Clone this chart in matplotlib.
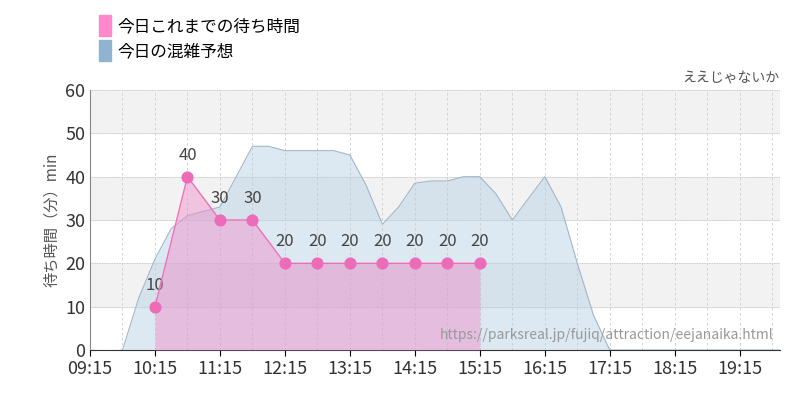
import matplotlib
matplotlib.use("Agg")
import matplotlib.pyplot as plt
from matplotlib.patches import Patch

plt.rcParams['font.family'] = ['Noto Sans CJK JP', 'DejaVu Sans']

# times in hours
fc_t = [9.25, 9.5, 9.75, 10.0, 10.25, 10.5, 10.75, 11.0, 11.25, 11.5, 11.75, 12.0, 12.25, 12.5, 12.75, 13.0,
        13.25, 13.5, 13.75, 14.0, 14.25, 14.5, 14.75, 15.0, 15.25, 15.5, 15.75, 16.0, 16.25, 16.5,
        16.75, 17.0, 17.25, 17.5, 18.0, 19.0, 19.87]
fc_v = [0, -0.5, 0, 12, 21, 28, 31, 32, 33, 40, 47, 47, 46, 46, 46, 46,
        45, 38, 29, 33, 38.5, 39, 39, 40, 40, 36, 30, 35, 40, 33,
        20, 8, 0, 0, 0, 0, 0]

act_t = [10.25, 10.75, 11.25, 11.75, 12.25, 12.75, 13.25, 13.75, 14.25, 14.75, 15.25]
act_v = [10, 40, 30, 30, 20, 20, 20, 20, 20, 20, 20]

xticks = [9.25 + i for i in range(11)]
xlabels = ["%02d:15" % int(t) for t in xticks]

fig = plt.figure(figsize=(8, 4), dpi=100)
ax = fig.add_axes([0.1125, 0.125, 0.8625, 0.65])
ax.set_xlim(9.25, 19.87)
ax.set_ylim(0, 60)

for y0 in (10, 30, 50):
    ax.axhspan(y0, y0 + 10, color='#f2f2f2', zorder=0)
for y in range(0, 61, 10):
    ax.axhline(y, color='#bbbbbb', lw=0.6, ls=(0, (1, 1)), zorder=1)
for i in range(22):
    ax.axvline(9.25 + 0.5 * i, color='#cccccc', lw=0.6, ls=(0, (3, 3)), zorder=1)

ax.fill_between(fc_t, fc_v, 0, color='#b4cfe3', alpha=0.45, lw=0, zorder=2)
ax.plot(fc_t, fc_v, color='#9fb8cc', lw=0.8, zorder=3)

ax.fill_between(act_t, act_v, 0, color='#f08ac8', alpha=0.45, lw=0, zorder=4)
ax.plot(act_t, act_v, color='#f070b8', lw=1, zorder=5)
ax.scatter(act_t, act_v, s=60, color='#ec6cb8', zorder=6)
for t, v in zip(act_t, act_v):
    ax.text(t, v + 3, str(v), ha='center', va='bottom', fontsize=12, color='#444444')

ax.set_xticks(xticks)
ax.set_xticklabels(xlabels, fontsize=13, color='#333333')
ax.set_yticks(range(0, 61, 10))
ax.tick_params(axis='y', labelsize=13, colors='#333333', length=0)
ax.tick_params(axis='x', length=4)
for s in ['top', 'right']:
    ax.spines[s].set_visible(False)
ax.spines['left'].set_color('#888888')
ax.spines['bottom'].set_color('#333333')
ax.set_ylabel('待ち時間（分）min', fontsize=11, color='#555555')

ax.text(1.0, 1.02, 'ええじゃないか', transform=ax.transAxes, ha='right', va='bottom', fontsize=10, color='#555555')
ax.text(0.99, 0.03, 'https://parksreal.jp/fujiq/attraction/eejanaika.html', transform=ax.transAxes,
        ha='right', va='bottom', fontsize=10, color='#999999', zorder=7)

handles = [Patch(color='#ff88cc', label='今日これまでの待ち時間'), Patch(color='#90b4d0', label='今日の混雑予想')]
fig.legend(handles=handles, loc='upper left', bbox_to_anchor=(0.105, 1.0), frameon=False, fontsize=12,
           handlelength=0.7, handleheight=1.6, handletextpad=0.4, labelspacing=0.2)

fig.savefig('out.png')
